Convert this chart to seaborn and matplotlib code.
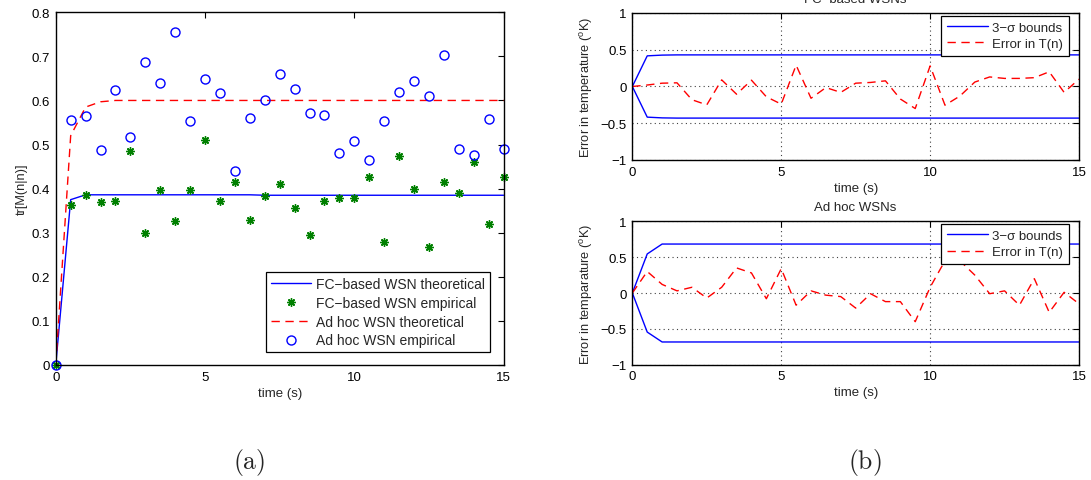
import matplotlib
matplotlib.use("Agg")
import matplotlib.pyplot as plt  # figure and axes
import matplotlib.ticker as mticker
import seaborn as sns  # line drawing

# time axis (s), one sample every half second
time_s = [0.0, 0.5, 1.0, 1.5, 2.0, 2.5, 3.0, 3.5, 4.0, 4.5, 5.0,
          5.5, 6.0, 6.5, 7.0, 7.5, 8.0, 8.5, 9.0, 9.5, 10.0,
          10.5, 11.0, 11.5, 12.0, 12.5, 13.0, 13.5, 14.0, 14.5, 15.0]

# (a) tr[M(n|n)]
fc_theory = [0.0, 0.375, 0.386, 0.386, 0.386, 0.386, 0.386, 0.386, 0.386,
             0.386, 0.386, 0.386, 0.386, 0.386, 0.385, 0.385, 0.385, 0.385,
             0.385, 0.385, 0.385, 0.385, 0.385, 0.385, 0.385, 0.385, 0.385,
             0.385, 0.385, 0.385, 0.385]
fc_empirical = [0.0, 0.363, 0.386, 0.369, 0.372, 0.486, 0.299, 0.398, 0.326,
                0.397, 0.511, 0.373, 0.416, 0.329, 0.384, 0.410, 0.357, 0.295,
                0.373, 0.379, 0.379, 0.426, 0.280, 0.473, 0.399, 0.267, 0.416,
                0.390, 0.460, 0.320, 0.426]
adhoc_theory = [0.0, 0.52, 0.585, 0.597, 0.6, 0.6, 0.6, 0.6, 0.6, 0.6, 0.6,
                0.6, 0.6, 0.6, 0.6, 0.6, 0.6, 0.6, 0.6, 0.6, 0.6, 0.6, 0.6,
                0.6, 0.6, 0.6, 0.6, 0.6, 0.6, 0.6, 0.6]
adhoc_empirical = [0.0, 0.556, 0.565, 0.487, 0.624, 0.517, 0.688, 0.639,
                   0.755, 0.554, 0.649, 0.618, 0.441, 0.560, 0.602, 0.660,
                   0.627, 0.572, 0.568, 0.481, 0.509, 0.465, 0.553, 0.619,
                   0.644, 0.610, 0.704, 0.490, 0.476, 0.559, 0.490]

# (b) temperature error, FC-based WSNs
fc_bound = [0.0, 0.417, 0.427, 0.43, 0.43, 0.43, 0.43, 0.43, 0.43, 0.43,
            0.43, 0.43, 0.43, 0.43, 0.43, 0.43, 0.43, 0.43, 0.43, 0.43,
            0.43, 0.43, 0.43, 0.43, 0.43, 0.43, 0.43, 0.43, 0.43, 0.43, 0.43]
fc_error = [0.0, 0.02, 0.045, 0.05, -0.18, -0.25, 0.09, -0.105, 0.086, -0.14,
            -0.24, 0.29, -0.16, -0.015, -0.08, 0.045, 0.055, 0.077, -0.17,
            -0.30, 0.28, -0.255, -0.13, 0.06, 0.13, 0.11, 0.11, 0.12, 0.2,
            -0.08, 0.1]

# (b) temperature error, ad hoc WSNs
adhoc_bound = [0.0, 0.545, 0.683, 0.683, 0.683, 0.683, 0.683, 0.683, 0.683,
               0.683, 0.683, 0.683, 0.683, 0.683, 0.683, 0.683, 0.683, 0.683,
               0.683, 0.683, 0.683, 0.683, 0.683, 0.683, 0.683, 0.683, 0.683,
               0.683, 0.683, 0.683, 0.683]
adhoc_error = [0.0, 0.3, 0.12, 0.03, 0.08, -0.07, 0.08, 0.35, 0.28, -0.08,
               0.34, -0.17, 0.03, -0.03, -0.05, -0.21, -0.01, -0.12, -0.12,
               -0.4, 0.08, 0.45, 0.45, 0.25, -0.01, 0.03, -0.17, 0.2, -0.27,
               0.01, -0.15]

sns.set_theme(style="white")
plt.rcParams["font.family"] = ["Liberation Sans", "DejaVu Sans"]
plt.rcParams["mathtext.fontset"] = "custom"
plt.rcParams["mathtext.rm"] = "Liberation Sans"
plt.rcParams["mathtext.it"] = "Liberation Sans:italic"
plt.rcParams["axes.edgecolor"] = "black"

DASH = (0, (6, 4))
GREEN = (0, 0.5, 0)


def fmt(v, _):
    '''MATLAB-like tick labels: 0, 0.5, −1'''
    return f"{v:g}".replace("-", "\u2212")


def style_axes(ax, xlim, ylim, yticks):
    ax.set_xlim(*xlim)
    ax.set_ylim(*ylim)
    ax.set_xticks([0, 5, 10, 15])
    ax.set_yticks(yticks)
    ax.xaxis.set_major_formatter(mticker.FuncFormatter(fmt))
    ax.yaxis.set_major_formatter(mticker.FuncFormatter(fmt))
    ax.tick_params(direction="in", top=True, right=True, length=4,
                   width=0.8, labelsize=9.5, pad=4, colors="black")
    for sp in ax.spines.values():
        sp.set_linewidth(1.0)
        sp.set_color("black")
    ax.set_xlabel("time (s)", fontsize=9.5, labelpad=3)


def error_panel(ax, bound, error, title, ylabel):
    '''3-sigma bounds plus the estimation error'''
    sns.lineplot(x=time_s, y=bound, ax=ax, color="blue", lw=1,
                 errorbar=None, label="3\u2212\u03c3 bounds")
    sns.lineplot(x=time_s, y=[-b for b in bound], ax=ax, color="blue",
                 lw=1, errorbar=None)
    sns.lineplot(x=time_s, y=error, ax=ax, color="red", lw=1,
                 linestyle=DASH, errorbar=None, label="Error in T(n)")
    style_axes(ax, (0, 15), (-1, 1), [-1, -0.5, 0, 0.5, 1])
    ax.grid(True, linestyle=(0, (1, 3)), color="0.25", lw=0.8)
    ax.set_title(title, fontsize=9.5, pad=8)
    ax.set_ylabel(ylabel, fontsize=9.2, labelpad=4)
    leg = ax.legend(loc="upper right", bbox_to_anchor=(0.978, 0.982),
                    borderaxespad=0, fontsize=9.5, handlelength=3.1,
                    handletextpad=0.35, labelspacing=0.3, borderpad=0.45,
                    fancybox=False, framealpha=1, edgecolor="black")
    leg.get_frame().set_linewidth(0.9)


fig = plt.figure(figsize=(10.91, 4.81), dpi=100)
ax_a = fig.add_axes([0.0511, 0.2391, 0.4105, 0.7333])
ax_b1 = fig.add_axes([0.5796, 0.6653, 0.4094, 0.3056])
ax_b2 = fig.add_axes([0.5796, 0.2397, 0.4094, 0.2981])

# (a) trace of the error covariance
sns.lineplot(x=time_s, y=fc_theory, ax=ax_a, color="blue", lw=1,
             errorbar=None, label="FC\u2212based WSN theoretical")
sns.lineplot(x=time_s, y=fc_empirical, ax=ax_a, color=GREEN,
             linestyle="none", marker=(8, 2, 0), ms=6, mew=1, mec=GREEN,
             clip_on=False, errorbar=None,
             label="FC\u2212based WSN empirical")
sns.lineplot(x=time_s, y=adhoc_theory, ax=ax_a, color="red", lw=1,
             linestyle=DASH, errorbar=None, label="Ad hoc WSN theoretical")
sns.lineplot(x=time_s, y=adhoc_empirical, ax=ax_a, color="blue",
             linestyle="none", marker="o", ms=6.5, mew=1, mfc="none",
             mec="blue", clip_on=False, errorbar=None,
             label="Ad hoc WSN empirical")
style_axes(ax_a, (0, 15), (0, 0.8), [0, 0.1, 0.2, 0.3, 0.4, 0.5, 0.6,
                                      0.7, 0.8])
ax_a.set_ylabel("tr[M(n|n)]", fontsize=9.2, labelpad=3)
leg = ax_a.legend(loc="lower right", bbox_to_anchor=(0.9697, 0.036),
                  borderaxespad=0, fontsize=10, handlelength=2.9,
                  handletextpad=0.35, labelspacing=0.35, borderpad=0.35,
                  fancybox=False, framealpha=1, edgecolor="black")
leg.get_frame().set_linewidth(0.9)

# (b) temperature errors
error_panel(ax_b1, fc_bound, fc_error, "FC\u2212based WSNs",
            "Error in temperature ($^{\\mathrm{o}}$K)")
error_panel(ax_b2, adhoc_bound, adhoc_error, "Ad hoc WSNs",
            "Error in temparature ($^{\\mathrm{o}}$K)")

# sub-figure captions (LaTeX-like serif)
fig.text(249 / 1091, 1 - 462 / 481, "$\\mathrm{(a)}$", ha="center",
         va="center", fontsize=18.5, math_fontfamily="cm")
fig.text(865 / 1091, 1 - 462 / 481, "$\\mathrm{(b)}$", ha="center",
         va="center", fontsize=18.5, math_fontfamily="cm")

fig.savefig("out.png", dpi=100)
